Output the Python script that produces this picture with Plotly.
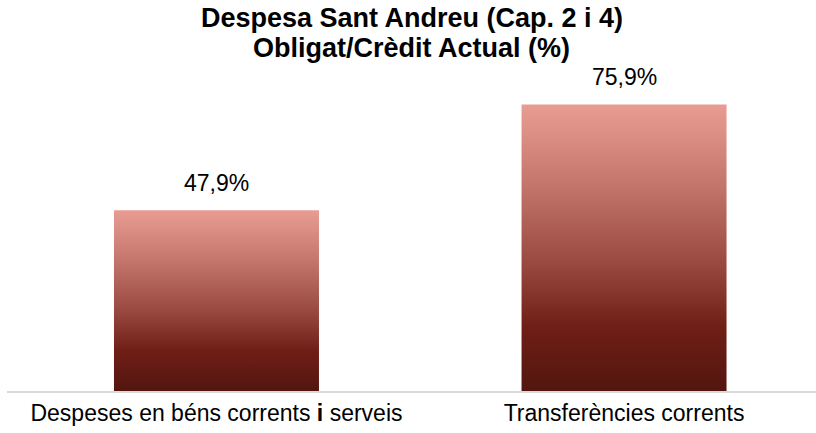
import plotly.graph_objects as go

categories = ["Despeses en béns corrents i serveis", "Transferències corrents"]
values = [47.9, 75.9]
value_labels = ["47,9%", "75,9%"]

title_lines = ["Despesa Sant Andreu (Cap. 2 i 4)", "Obligat/Crèdit Actual (%)"]

FONT = "Liberation Sans, Arial"
BAR_WIDTH = 0.503
GRADIENT = [
    [0.0, "#52160F"],
    [0.22, "#6F1E16"],
    [0.45, "#9A4A40"],
    [0.75, "#C97A70"],
    [1.0, "#E99D92"],
]

# the conjunction "i" is set in bold in the category labels
tick_labels = [c.replace(" i ", " <b>i</b> ") for c in categories]

fig = go.Figure()

for i, (cat, v) in enumerate(zip(categories, values)):
    x0, x1 = i - BAR_WIDTH / 2, i + BAR_WIDTH / 2
    fig.add_trace(go.Scatter(
        x=[x0, x0, x1, x1, x0],
        y=[0, v, v, 0, 0],
        mode="lines",
        line=dict(width=0),
        fill="toself",
        fillgradient=dict(type="vertical", colorscale=GRADIENT, start=0, stop=v),
        name=cat,
        hoverinfo="skip",
        showlegend=False,
    ))
    fig.add_annotation(
        x=i, y=v, text=value_labels[i], showarrow=False,
        yanchor="bottom", yshift=12,
        font=dict(family=FONT, size=23, color="#000000"),
    )

# Two-line bold title, placed above the plot area
for k, line in enumerate(title_lines):
    fig.add_annotation(
        xref="paper", yref="paper", x=0.5, y=1.235 - k * 0.1,
        text=f"<b>{line}</b>", showarrow=False,
        xanchor="center", yanchor="middle",
        font=dict(family=FONT, size=27, color="#000000"),
    )

fig.update_layout(
    width=816, height=433,
    margin=dict(l=7, r=0, t=89, b=42),
    paper_bgcolor="white", plot_bgcolor="white",
    xaxis=dict(
        range=[-0.514, 1.471],
        tickvals=list(range(len(categories))), ticktext=tick_labels,
        showgrid=False, zeroline=False,
        showline=True, linecolor="#D9D9D9", linewidth=2,
        ticks="", tickfont=dict(family=FONT, size=23, color="#000000"),
        fixedrange=True,
    ),
    yaxis=dict(
        range=[0, 80], visible=False, showgrid=False, zeroline=False, fixedrange=True,
    ),
    showlegend=False,
)

fig.write_html("out.html")
